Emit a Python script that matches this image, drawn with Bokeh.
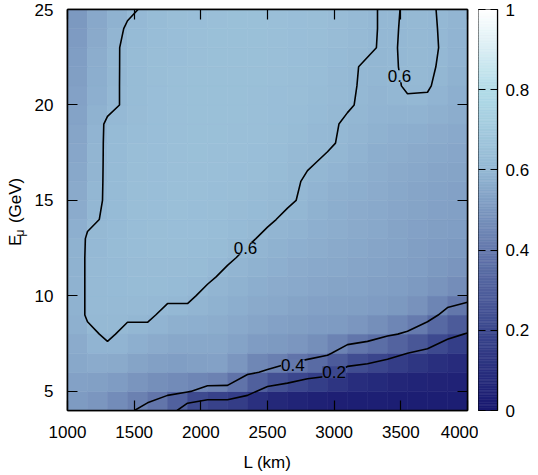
import numpy as np
from bokeh.plotting import figure
from bokeh.layouts import row
from bokeh.models import (LinearColorMapper, FixedTicker, LinearAxis,
                          Label, ColumnDataSource)
from bokeh.core.properties import value
from bokeh.transform import transform
from bokeh.embed import file_html
from bokeh.resources import INLINE

# ---------------- data ----------------
L_km = [1000, 1150, 1300, 1450, 1600, 1750, 1900, 2050, 2200, 2350, 2500,
        2650, 2800, 2950, 3100, 3250, 3400, 3550, 3700, 3850, 4000]
E_gev = list(range(4, 26))  # 4 .. 25

# values at each L (one list per L), from E = 4 up to E = 25
z_by_L = [
    [.50, .52, .535, .545, .55, .555, .555, .555, .555, .55, .54, .53, .525, .52, .515, .51, .50, .495, .49, .48, .475, .47],
    [.50, .52, .545, .565, .587, .607, .607, .607, .607, .606, .59, .585, .58, .575, .57, .565, .56, .555, .55, .545, .54, .53],
    [.46, .50, .54, .585, .609, .612, .613, .613, .612, .611, .607, .605, .606, .607, .608, .608, .588, .585, .58, .575, .57, .56],
    [.416, .48, .53, .565, .5865, .6083, .616, .62, .622, .624, .625, .626, .626, .626, .625, .622, .608, .61, .613, .616, .607, .59],
    [.37, .445, .51, .55, .5865, .6083, .618, .624, .628, .63, .632, .633, .634, .634, .634, .633, .632, .63, .627, .624, .617, .609],
    [.32, .421, .50, .54, .565, .588, .608, .62, .627, .632, .635, .637, .638, .639, .639, .639, .638, .637, .635, .633, .629, .623],
    [.07, .41, .50, .535, .56, .588, .608, .621, .629, .634, .637, .639, .64, .641, .641, .641, .641, .64, .639, .637, .635, .632],
    [.01, .349, .52, .545, .563, .577, .589, .607, .62, .628, .633, .636, .638, .64, .641, .642, .642, .642, .642, .641, .64, .638],
    [.01, .349, .51, .54, .555, .567, .58, .5907, .6062, .618, .626, .631, .635, .638, .64, .641, .642, .642, .642, .642, .641, .64],
    [.01, .25, .42, .50, .535, .553, .567, .578, .5918, .6055, .617, .625, .631, .635, .638, .64, .641, .642, .642, .642, .642, .641],
    [.01, .135, .385, .49, .525, .545, .558, .569, .579, .5924, .605, .615, .623, .629, .634, .637, .639, .64, .641, .641, .641, .64],
    [.01, .10, .33, .486, .515, .535, .55, .562, .572, .582, .5934, .6044, .607, .615, .622, .628, .632, .635, .637, .638, .638, .637],
    [.01, .07, .267, .463, .505, .527, .542, .552, .561, .574, .585, .5942, .5965, .6027, .611, .618, .624, .628, .631, .633, .634, .634],
    [.01, .054, .237, .42, .50, .52, .535, .545, .554, .562, .57, .578, .587, .5966, .6028, .604, .613, .619, .624, .627, .629, .629],
    [.01, .045, .146, .321, .497, .515, .533, .541, .549, .556, .563, .57, .577, .585, .5958, .597, .602, .604, .605, .612, .617, .62],
    [.01, .04, .123, .294, .465, .505, .527, .535, .542, .549, .555, .561, .567, .573, .58, .588, .596, .5955, .596, .604, .605, .605],
    [.01, .035, .088, .252, .416, .495, .52, .527, .534, .54, .546, .551, .556, .561, .567, .578, .59, .592, .594, .595, .595, .595],
    [.01, .03, .07, .20, .385, .485, .51, .518, .525, .531, .537, .543, .55, .558, .567, .58, .595, .6035, .605, .605, .604, .603],
    [.01, .03, .06, .165, .312, .448, .49, .505, .515, .522, .528, .534, .541, .549, .558, .572, .593, .6035, .605, .605, .604, .603],
    [.01, .03, .055, .11, .233, .358, .466, .49, .505, .515, .522, .528, .535, .542, .55, .56, .572, .585, .593, .596, .596, .596],
    [.01, .03, .05, .10, .192, .33, .435, .47, .495, .51, .52, .527, .534, .54, .547, .555, .563, .572, .578, .582, .584, .585],
]

x_ticks = [1000, 1500, 2000, 2500, 3000, 3500, 4000]
y_ticks = [5, 10, 15, 20, 25]
cb_ticks = [0, 0.2, 0.4, 0.6, 0.8, 1]
levels = [0.2, 0.4, 0.6]

label_text = ["0.6", "0.6", "0.4", "0.2"]
label_level = [0.6, 0.6, 0.4, 0.2]
label_L = [2335, 3490, 2690, 3000]
label_E = [12.5, 21.5, 6.36, 6.0]

x_title = "L (km)"
y_title_parts = ["E", "\u03bc", "(GeV)"]

FONT = "Liberation Sans"
FS = "17px"

# ---------------- palette ----------------
stops = [(0.0, (25, 25, 112)), (0.2, (60, 72, 142)), (0.4, (100, 120, 172)),
         (0.6, (148, 184, 212)), (0.8, (178, 220, 232)), (1.0, (255, 255, 255))]
def make_palette(n=256):
    out = []
    for t in np.linspace(0, 1, n):
        for (t0, c0), (t1, c1) in zip(stops[:-1], stops[1:]):
            if t0 <= t <= t1:
                f = (t - t0) / (t1 - t0)
                c = [int(round(a + f * (b - a))) for a, b in zip(c0, c1)]
                out.append("#%02x%02x%02x" % tuple(c))
                break
    return out
palette = make_palette()
mapper = LinearColorMapper(palette=palette, low=0, high=1)

def level_color(v):
    return palette[int(round(v * (len(palette) - 1)))]

# ---------------- grid -> cells ----------------
Lg = np.array(L_km, dtype=float)
Eg = np.array(E_gev, dtype=float)
Z = np.array(z_by_L, dtype=float).T          # shape (nE, nL)
C = (Z[:-1, :-1] + Z[1:, :-1] + Z[:-1, 1:] + Z[1:, 1:]) / 4.0
LL, BB = np.meshgrid(Lg[:-1], Eg[:-1])
RR, TT = np.meshgrid(Lg[1:], Eg[1:])
src = ColumnDataSource(dict(left=LL.ravel(), right=RR.ravel(),
                            bottom=BB.ravel(), top=TT.ravel(), val=C.ravel()))

# ---------------- layout constants ----------------
W, H = 538, 475
STRIP = 30
FRAME_L, FRAME_R, FRAME_T, FRAME_B = 67, 467, 9, 410
CB_L, CB_R = 478, 497

# ---------------- main figure ----------------
p = figure(width=CB_L - STRIP, height=H, x_range=(Lg[0], Lg[-1]), y_range=(Eg[0], Eg[-1]),
           output_backend="svg", toolbar_location=None,
           min_border_left=FRAME_L - STRIP, min_border_right=CB_L - FRAME_R,
           min_border_top=FRAME_T, min_border_bottom=H - FRAME_B)
p.grid.visible = False
p.outline_line_color = "black"
p.outline_line_width = 1.5
p.background_fill_color = "white"

p.quad(left="left", right="right", bottom="bottom", top="top", source=src,
       fill_color=transform("val", mapper), line_color=transform("val", mapper),
       line_width=0.6)

p.contour(x=Lg, y=Eg, z=Z, levels=levels, line_color="black", line_width=1.6)

for t, lv, lx, ly in zip(label_text, label_level, label_L, label_E):
    p.add_layout(Label(x=lx, y=ly, text=t, text_align="center", text_baseline="middle",
                       text_font=FONT, text_font_size=FS, text_color="black",
                       background_fill_color=level_color(lv), background_fill_alpha=1.0))

def style_axis(ax, ticks, labels=True, tick_len=10):
    ax.ticker = FixedTicker(ticks=ticks)
    ax.major_tick_in = tick_len
    ax.major_tick_out = 0
    ax.major_tick_line_color = "black"
    ax.major_tick_line_width = 1.2
    ax.minor_tick_line_color = None
    ax.axis_line_color = "black"
    ax.axis_line_width = 1.5
    ax.major_label_text_font = FONT
    ax.major_label_text_color = "black"
    ax.major_label_text_font_size = FS
    if not labels:
        ax.major_label_overrides = {t: "" for t in ticks}
        ax.major_label_text_font_size = "1px"
        ax.major_label_text_color = None
        ax.major_label_standoff = 0

style_axis(p.xaxis[0], x_ticks)
style_axis(p.yaxis[0], y_ticks)
p.xaxis.major_label_standoff = 15
p.yaxis.major_label_standoff = 14
p.xaxis.axis_label = x_title
p.xaxis.axis_label_text_font = FONT
p.xaxis.axis_label_text_font_size = FS
p.xaxis.axis_label_text_font_style = "normal"
p.xaxis.axis_label_text_color = "black"
p.xaxis.axis_label_standoff = 12

top_ax = LinearAxis()
right_ax = LinearAxis()
style_axis(top_ax, x_ticks, labels=False)
style_axis(right_ax, y_ticks, labels=False)
p.add_layout(top_ax, "above")
p.add_layout(right_ax, "right")

# ---------------- colour bar (own small figure) ----------------
cb_vals = np.linspace(0, 1, len(palette) + 1)
cbf = figure(width=W - CB_L, height=H, x_range=(0, 1), y_range=(0, 1),
             output_backend="svg", toolbar_location=None,
             x_axis_type=None, y_axis_location="right",
             min_border_left=0, min_border_right=W - CB_R,
             min_border_top=FRAME_T, min_border_bottom=H - FRAME_B)
cbf.grid.visible = False
cbf.quad(left=0, right=1, bottom=cb_vals[:-1], top=cb_vals[1:],
         fill_color=palette, line_color=palette, line_width=0.6)
cbf.outline_line_color = "black"
cbf.outline_line_width = 1.2
cax = cbf.yaxis[0]
style_axis(cax, cb_ticks, tick_len=CB_R - CB_L)
cax.major_tick_line_dash = "7 5"
cax.major_label_standoff = 8
cax.major_label_overrides = {0: "0", 1: "1"}
cax.axis_line_width = 1.2

# ---------------- y title strip ----------------
ys = figure(width=STRIP, height=H, x_range=(0, STRIP), y_range=(0, H),
            output_backend="svg", toolbar_location=None,
            x_axis_type=None, y_axis_type=None,
            min_border_left=0, min_border_right=0, min_border_top=0, min_border_bottom=0)
ys.grid.visible = False
ys.outline_line_color = None
title_x = [15, 19.5, 15]
title_y = [195, 206, 222]
title_size = [FS, "12px", FS]
for t, tx, ty, ts in zip(y_title_parts, title_x, title_y, title_size):
    ys.text(x=[tx], y=[ty], text=[t], angle=np.pi / 2, text_align="left",
            text_baseline="middle", text_font=value(FONT), text_font_size=value(ts),
            text_color="black")

layout = row(ys, p, cbf)
open("out.html", "w").write(file_html(layout, INLINE))
